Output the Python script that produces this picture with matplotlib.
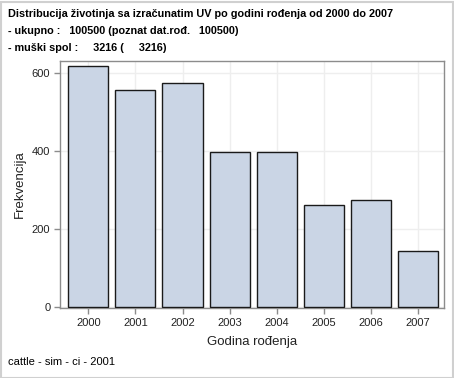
import matplotlib
matplotlib.use('Agg')
import matplotlib.pyplot as plt
from matplotlib.patches import Rectangle

plt.rcParams['font.family'] = ['Liberation Sans', 'DejaVu Sans']

# data
years = ['2000', '2001', '2002', '2003', '2004', '2005', '2006', '2007']
counts = [618, 556, 574, 397, 397, 261, 274, 143]
yticks = [0, 200, 400, 600]

header = ['Distribucija životinja sa izračunatim UV po godini rođenja od 2000 do 2007',
          '- ukupno :   100500 (poznat dat.rođ.   100500)',
          '- muški spol :     3216 (     3216)']
footer = 'cattle - sim - ci - 2001'

W, H = 454, 378
fig = plt.figure(figsize=(W / 100, H / 100), dpi=100)
fig.patch.set_facecolor('white')
fig.patches.append(Rectangle((0.5 / W, 0.5 / H), 1 - 2 / W, 1 - 2.5 / H, transform=fig.transFigure,
                             fill=False, edgecolor='#d0d0d0', linewidth=1.5))

ax = fig.add_axes([60 / W, 1 - 308 / H, 384 / W, 247 / H])
x = range(len(years))
ax.bar(x, counts, width=0.85, color='#cad5e5', edgecolor='#1a1a1a', linewidth=1.0, zorder=3)
ax.set_xlim(-0.6, 7.55)
ax.set_ylim(-2.5, 631)
ax.set_xticks(list(x))
ax.set_xticklabels(years)
ax.set_yticks(yticks)
ax.grid(True, color='#eeeeee', linewidth=1, zorder=0)
ax.set_axisbelow(True)
for s in ax.spines.values():
    s.set_color('#8c8c8c')
    s.set_linewidth(1)
ax.tick_params(axis='both', colors='#8c8c8c', labelcolor='#222222', labelsize=8, length=4, width=1, pad=3)
ax.set_xlabel('Godina rođenja', fontsize=9.5, color='#222222', labelpad=6)
ax.set_ylabel('Frekvencija', fontsize=9.5, color='#222222', labelpad=4)

for i, line in enumerate(header):
    fig.text(8 / W, 1 - (14 + 17 * i) / H, line, fontsize=7.8, fontweight='bold', va='center', ha='left')
fig.text(8 / W, 1 - 362 / H, footer, fontsize=8, va='center', ha='left')

fig.savefig('out.png', dpi=100)
